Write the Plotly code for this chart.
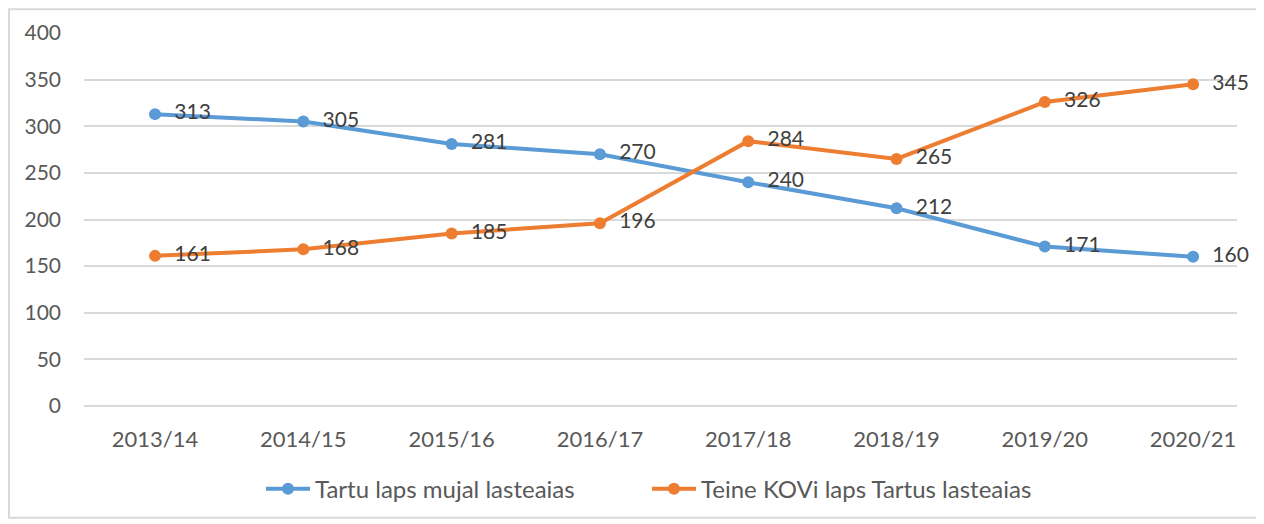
import plotly.graph_objects as go

categories = ["2013/14", "2014/15", "2015/16", "2016/17", "2017/18", "2018/19", "2019/20", "2020/21"]
tartu_mujal = [313, 305, 281, 270, 240, 212, 171, 160]
teine_kov = [161, 168, 185, 196, 284, 265, 326, 345]
series_names = ["Tartu laps mujal lasteaias", "Teine KOVi laps Tartus lasteaias"]
y_ticks = [0, 50, 100, 150, 200, 250, 300, 350, 400]

FONT = "Lato"
GRAY = "#595959"
GRID = "#D9D9D9"

fig = go.Figure()
for name, vals, color in [(series_names[0], tartu_mujal, "#5B9BD5"),
                          (series_names[1], teine_kov, "#ED7D31")]:
    fig.add_trace(go.Scatter(
        x=categories, y=vals, name=name, mode="lines+markers+text",
        line=dict(color=color, width=4),
        marker=dict(color=color, size=12),
        text=["  " + str(v) for v in vals],
        textposition="middle right",
        textfont=dict(family=FONT, size=21, color="#404040"),
        cliponaxis=False,
    ))

# page body has an 8px margin; lay out in figure coords = reference - 8
OFF = 8
W, H = 1256, 516
L, R, T, B = 84 - OFF, 27, 33 - OFF, 114
pw, ph = W - L - R, H - T - B

def px_x(p):
    return (p - OFF - L) / pw

def px_y(p):
    return (H - B - (p - OFF)) / ph

fig.update_layout(
    width=W, height=H,
    margin=dict(l=L, r=R, t=T, b=B),
    paper_bgcolor="white", plot_bgcolor="white",
    font=dict(family=FONT, color=GRAY, size=21),
    showlegend=True,
    legend=dict(orientation="h", x=px_x(261), xanchor="left", y=px_y(494), yanchor="middle",
                font=dict(family=FONT, size=24, color=GRAY), itemwidth=44,
                entrywidth=327, entrywidthmode="pixels", tracegroupgap=0),
    xaxis=dict(type="category", range=[-0.479, 7.296], showgrid=False, showline=False,
               zeroline=False, ticks="", ticklabelstandoff=18,
               tickfont=dict(family=FONT, size=22, color=GRAY), fixedrange=True),
    yaxis=dict(range=[0, 400], tickvals=y_ticks, showgrid=True, gridcolor=GRID, gridwidth=2,
               zeroline=True, zerolinecolor=GRID, zerolinewidth=2, showline=False, ticks="",
               ticklabelstandoff=22, tickfont=dict(family=FONT, size=21, color=GRAY)),
    shapes=[dict(type="rect", xref="paper", yref="paper",
                 x0=px_x(9), x1=px_x(1260), y0=px_y(523), y1=px_y(9),
                 line=dict(color=GRID, width=2), fillcolor="rgba(0,0,0,0)", layer="below")],
)

fig.write_html("out.html")
